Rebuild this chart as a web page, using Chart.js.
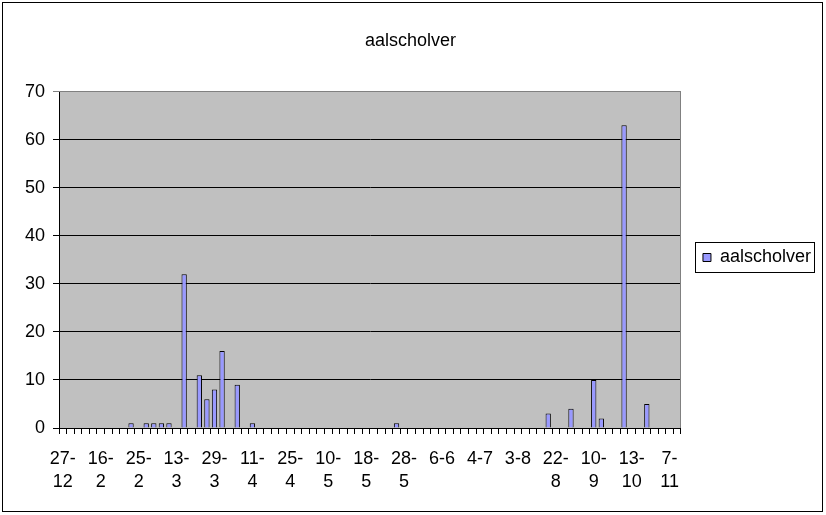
<!DOCTYPE html>
<html>
<head>
<meta charset="utf-8">
<script src="https://cdn.jsdelivr.net/npm/chart.js@4.4.0/dist/chart.umd.min.js"></script>
<style>
  html, body { margin: 0; padding: 0; background: #fff; }
  #wrap { width: 826px; height: 515px; }
</style>
</head>
<body>
<div id="wrap"><canvas id="myChart" width="826" height="515"></canvas></div>
<script>
// dates on the axis, only every fifth one is printed in the original
const dates = [
    '27-12', '', '', '', '',
    '16-2', '', '', '', '',
    '25-2', '', '', '', '',
    '13-3', '', '', '', '',
    '29-3', '', '', '', '',
    '11-4', '', '', '', '',
    '25-4', '', '', '', '',
    '10-5', '', '', '', '',
    '18-5', '', '', '', '',
    '28-5', '', '', '', '',
    '6-6', '', '', '', '',
    '4-7', '', '', '', '',
    '3-8', '', '', '', '',
    '22-8', '', '', '', '',
    '10-9', '', '', '', '',
    '13-10', '', '', '', '',
    '7-11', ''
];

const counts = [
    0, 0, 0, 0, 0, 0, 0, 0, 0, 1,
    0, 1, 1, 1, 1, 0, 32, 0, 11, 6,
    8, 16, 0, 9, 0, 1, 0, 0, 0, 0,
    0, 0, 0, 0, 0, 0, 0, 0, 0, 0,
    0, 0, 0, 0, 1, 0, 0, 0, 0, 0,
    0, 0, 0, 0, 0, 0, 0, 0, 0, 0,
    0, 0, 0, 0, 3, 0, 0, 4, 0, 0,
    10, 2, 0, 0, 63, 0, 0, 5, 0, 0,
    0, 0
];

const yTicks = [0, 10, 20, 30, 40, 50, 60, 70];

const FONT = "'Liberation Sans', Arial, sans-serif";

// grey plot area, grey top/right edge, outer frame and legend frame
const excelLook = {
    id: 'excelLook',
    beforeDraw(chart) {
        const { ctx, chartArea: a } = chart;
        ctx.save();
        ctx.fillStyle = '#C0C0C0';
        ctx.fillRect(a.left, a.top, a.right - a.left, a.bottom - a.top);
        ctx.restore();
    },
    afterDraw(chart) {
        const { ctx, chartArea: a } = chart;
        ctx.save();
        ctx.strokeStyle = '#808080';
        ctx.lineWidth = 1;
        ctx.beginPath();
        ctx.moveTo(a.left, Math.floor(a.top) + 0.5);
        ctx.lineTo(Math.floor(a.right) + 0.5, Math.floor(a.top) + 0.5);
        ctx.lineTo(Math.floor(a.right) + 0.5, a.bottom);
        ctx.stroke();

        ctx.strokeStyle = '#000';
        ctx.strokeRect(2.5, 2.5, 820, 509);

        const hb = chart.legend.legendHitBoxes[0];
        if (hb) {
            ctx.strokeRect(Math.round(hb.left) - 7.5, Math.round(hb.top) - 6.5,
                Math.round(hb.width) + 11, Math.round(hb.height) + 12);
        }
        ctx.restore();
    }
};

let ctx = document.getElementById('myChart').getContext('2d');
let chart = new Chart(ctx, {
    type: 'bar',
    data: {
        labels: dates,
        datasets: [{
            label: 'aalscholver',
            data: counts,
            backgroundColor: '#9999FF',
            borderColor: '#000000',
            borderWidth: 1,
            barPercentage: 0.7,
            categoryPercentage: 1
        }]
    },
    options: {
        responsive: false,
        animation: false,
        layout: { padding: { left: 0, right: 5, top: 0, bottom: 0 } },
        plugins: {
            title: {
                display: true,
                text: 'aalscholver',
                color: '#000',
                font: { family: FONT, size: 18, weight: 'normal' },
                padding: { top: 30, bottom: 40 }
            },
            legend: {
                position: 'right',
                labels: {
                    color: '#000',
                    font: { family: FONT, size: 18 },
                    boxWidth: 8,
                    boxHeight: 8,
                    padding: 22
                }
            },
            tooltip: { enabled: false }
        },
        scales: {
            x: {
                afterFit(scale) { scale.height = 87; },
                grid: {
                    drawOnChartArea: false,
                    color: '#000',
                    tickLength: 6,
                    offset: true
                },
                border: { color: '#000' },
                ticks: {
                    autoSkip: false,
                    maxRotation: 0,
                    minRotation: 0,
                    padding: 13,
                    color: '#000',
                    font: { family: FONT, size: 18, lineHeight: 1.3 },
                    callback(value, index) {
                        const s = dates[index];
                        if (s.length > 3) {
                            const i = s.indexOf('-');
                            return [s.slice(0, i + 1), s.slice(i + 1)];
                        }
                        return s;
                    }
                }
            },
            y: {
                min: yTicks[0],
                max: yTicks[yTicks.length - 1],
                afterFit(scale) { scale.width = 59; },
                afterBuildTicks(scale) {
                    scale.ticks = yTicks.map(v => ({ value: v }));
                },
                grid: {
                    color: (c) => c.tick && c.tick.value === 70 ? '#808080' : '#000',
                    tickLength: 6
                },
                border: { color: '#000' },
                ticks: {
                    padding: 8,
                    color: '#000',
                    font: { family: FONT, size: 18 }
                }
            }
        }
    },
    plugins: [excelLook]
});
</script>
</body>
</html>
